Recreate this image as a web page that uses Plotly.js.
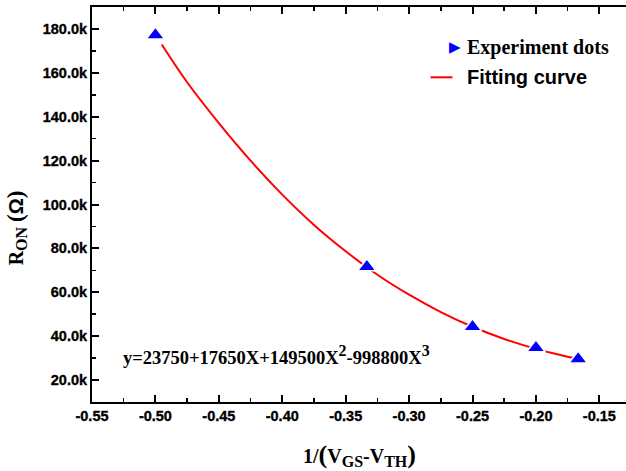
<!DOCTYPE html>
<html><head><meta charset="utf-8">
<script src="https://cdn.plot.ly/plotly-3.0.1.min.js"></script>
<style>html,body{margin:0;padding:0;background:#fff;}#chart{width:626px;height:471px;}
#chart .xtick text, #chart .ytick text{font-weight:700 !important; stroke:#000; stroke-width:0.35px;}</style>
</head><body><div id="chart"></div>
<script>
// Experiment dots (x = 1/(VGS-VTH), y = R_ON in ohms)
const dotsX = [-0.5, -0.3333, -0.25, -0.2, -0.1667];
const dotsY = [177200, 71600, 44300, 34700, 29600];
// Fitting curve
const fitX = [-0.495, -0.475, -0.45, -0.425, -0.40, -0.375, -0.35, -0.325, -0.30, -0.275, -0.25, -0.225, -0.20, -0.18, -0.169];
const fitY = [172900, 155700, 137100, 120000, 104500, 90700, 78700, 68000, 58900, 51000, 44300, 38700, 34200, 31300, 29900];
// Axis ticks
const yTickVals = [20000, 40000, 60000, 80000, 100000, 120000, 140000, 160000, 180000];
const yTickText = ['20.0k', '40.0k', '60.0k', '80.0k', '100.0k', '120.0k', '140.0k', '160.0k', '180.0k'];
const xTickVals = [-0.55, -0.50, -0.45, -0.40, -0.35, -0.30, -0.25, -0.20, -0.15];
const xTickText = ['-0.55', '-0.50', '-0.45', '-0.40', '-0.35', '-0.30', '-0.25', '-0.20', '-0.15'];

const bold = t => '<b>' + t + '</b>';
const sup = s => '<sup><span style="font-size:16px">' + s + '</span></sup>';
const equation = 'y=23750+17650X+149500X' + sup('2') + '-998800X' + sup('3');

const traces = [
  {x: fitX, y: fitY, mode: 'lines', line: {color: '#ff0000', width: 2, shape: 'spline'}, showlegend: false, hoverinfo: 'skip'},
  {x: dotsX, y: dotsY, mode: 'markers', marker: {symbol: 'triangle-up', size: 16, color: '#0000ff', line: {color: '#ffffff', width: 1.5}}, showlegend: false}
];

const tickFont = {family: 'Liberation Sans, Arial, sans-serif', size: 14.5, color: '#000', weight: 700};

const layout = {
  width: 626, height: 471,
  margin: {l: 92, r: 0, t: 7, b: 69},
  paper_bgcolor: '#fff', plot_bgcolor: '#fff',
  showlegend: false,
  xaxis: {
    range: [-0.55, -0.129], tickmode: 'array', tickvals: xTickVals, ticktext: xTickText.map(bold),
    ticks: 'inside', ticklen: 7, tickwidth: 2, tickcolor: '#000',
    minor: {tickmode: 'linear', tick0: -0.55, dtick: 0.025, ticks: 'inside', ticklen: 4, tickwidth: 1.5, tickcolor: '#000'},
    showline: true, linewidth: 2, linecolor: '#000', mirror: 'ticks',
    showgrid: false, zeroline: false, tickfont: tickFont
  },
  yaxis: {
    range: [10000, 190000], tickmode: 'array', tickvals: yTickVals, ticktext: yTickText.map(bold),
    ticks: 'inside', ticklen: 7, tickwidth: 2, tickcolor: '#000',
    minor: {tickmode: 'linear', tick0: 0, dtick: 10000, ticks: 'inside', ticklen: 4, tickwidth: 1.5, tickcolor: '#000'},
    showline: true, linewidth: 2, linecolor: '#000',
    showgrid: false, zeroline: false, tickfont: tickFont
  },
  annotations: [
    {xref: 'paper', yref: 'paper', x: 0.054, y: 0.118, xanchor: 'left', yanchor: 'middle', showarrow: false,
     text: bold(equation), font: {family: 'Liberation Serif, Times New Roman, serif', size: 18.5, color: '#000'}},
    {xref: 'paper', yref: 'paper', x: 0.5, y: -0.135, xanchor: 'center', yanchor: 'middle', showarrow: false,
     text: bold('1/<span style="font-size:26px">(</span>V<sub><span style="font-size:16px">GS</span></sub>-V<sub><span style="font-size:16px">TH</span></sub><span style="font-size:26px">)</span>'),
     font: {family: 'Liberation Serif, Times New Roman, serif', size: 20, color: '#000'}},
    {xref: 'paper', yref: 'paper', x: -0.142, y: 0.44, xanchor: 'center', yanchor: 'middle', showarrow: false, textangle: -90,
     text: bold('R<sub><span style="font-size:16px">ON</span></sub> <span style="font-size:23px">(</span><span style="font-family:Liberation Sans, Arial, sans-serif">Ω</span><span style="font-size:23px">)</span>'),
     font: {family: 'Liberation Serif, Times New Roman, serif', size: 20, color: '#000'}},
    // legend
    {xref: 'paper', yref: 'paper', x: 0.679, y: 0.898, xanchor: 'center', yanchor: 'middle', showarrow: false,
     text: '▶', font: {family: 'DejaVu Sans, sans-serif', size: 15, color: '#0000ff'}},
    {xref: 'paper', yref: 'paper', x: 0.699, y: 0.898, xanchor: 'left', yanchor: 'middle', showarrow: false,
     text: bold('Experiment dots'), font: {family: 'Liberation Serif, Times New Roman, serif', size: 20, color: '#000'}},
    {xref: 'paper', yref: 'paper', x: 0.699, y: 0.822, xanchor: 'left', yanchor: 'middle', showarrow: false,
     text: bold('Fitting curve'), font: {family: 'Liberation Sans, Arial, sans-serif', size: 20, color: '#000'}}
  ],
  shapes: [
    {type: 'line', xref: 'paper', yref: 'paper', x0: 0.634, x1: 0.675, y0: 0.822, y1: 0.822, line: {color: '#ff0000', width: 2}}
  ]
};

Plotly.newPlot('chart', traces, layout, {displayModeBar: false, staticPlot: true});
</script></body></html>
